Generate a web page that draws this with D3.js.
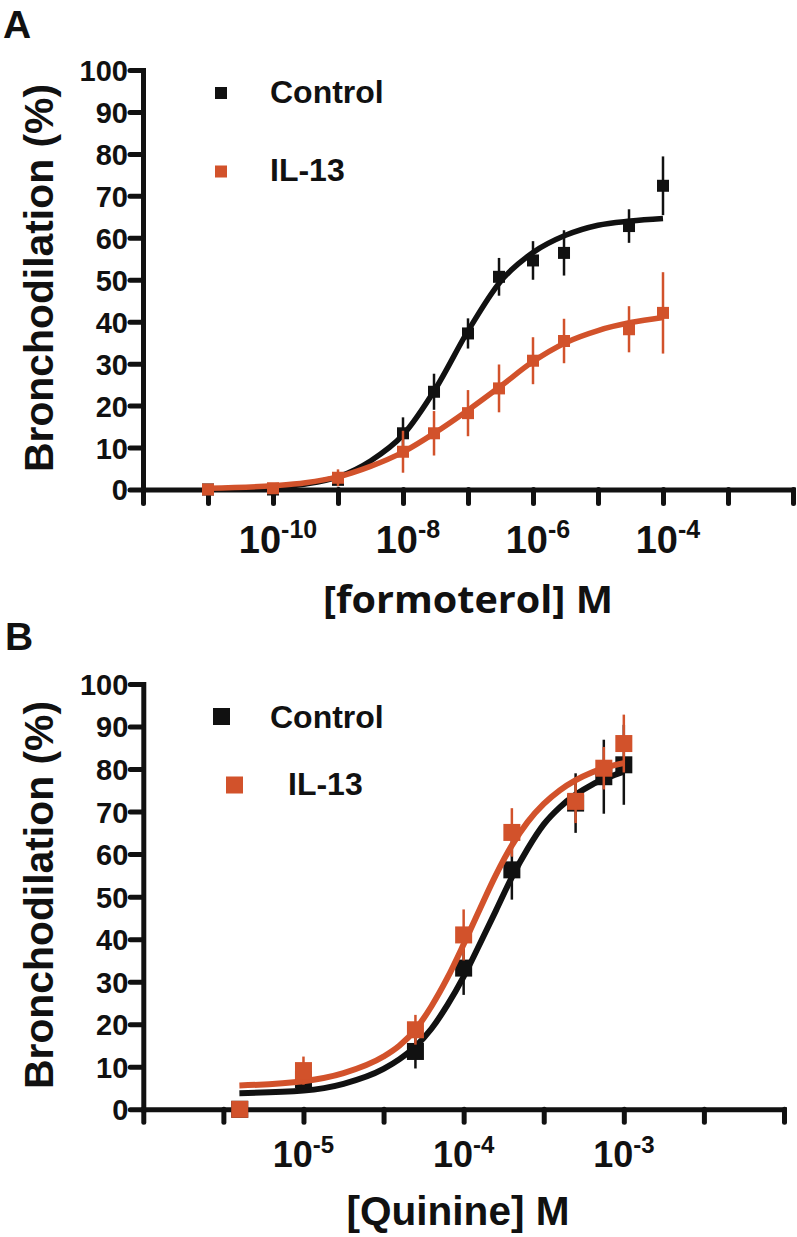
<!DOCTYPE html>
<html><head><meta charset="utf-8">
<script src="https://cdn.jsdelivr.net/npm/d3@7"></script>
<style>
body{margin:0;background:#fff}
svg text{font-family:"Liberation Sans",Arial,sans-serif;font-weight:bold;fill:#111}
</style>
</head><body>
<svg id="chart" width="797" height="1237"></svg>
<script>
// ---------- Panel A : formoterol ----------
const concA      = [1e-11, 1e-10, 1e-9, 1e-8, 3e-8, 1e-7, 3e-7, 1e-6, 3e-6, 3e-5, 1e-4];
const controlA   = [0, 0, 2.3, 13.4, 23.3, 37.2, 50.7, 54.6, 56.4, 62.8, 72.4];
const controlAErr= [0, 0, 1.5, 3.8, 4.3, 3.6, 4.5, 4.6, 5.4, 4.0, 7.0];
const il13A      = [0, 0.3, 2.8, 9.0, 13.4, 18.2, 24.1, 30.7, 35.4, 38.2, 42.1];
const il13AErr   = [0, 0, 2.0, 5.0, 5.3, 5.5, 5.7, 5.6, 5.3, 5.5, 9.7];
// fitted curves (log10 M, %)
const fitLogA     = [-11, -10, -9.5, -9, -8.5, -8, -7.5, -7, -6.5, -6, -5.5, -5, -4.5, -4];
const fitControlA = [0.1, 0.5, 1.3, 3.0, 6.8, 13.0, 24.0, 37.8, 49.6, 56.5, 60.6, 63.0, 64.0, 64.6];
const fitIl13A    = [0.3, 0.9, 1.6, 3.0, 5.5, 8.9, 13.6, 18.9, 24.6, 30.5, 35.0, 37.9, 39.8, 41.0];
const tickExpA    = [-12, -11, -10, -9, -8, -7, -6, -5, -4, -3, -2];
const labelExpA   = ["-10", "-8", "-6", "-4"];
const labelValA   = [1e-10, 1e-8, 1e-6, 1e-4];

// ---------- Panel B : quinine ----------
const concB      = [4e-6, 1e-5, 5e-5, 1e-4, 2e-4, 5e-4, 7.5e-4, 1e-3];
const controlB   = [0, 7.0, 13.6, 33.2, 56.3, 72.0, 78.2, 81.0];
const controlBErr= [0, 2.0, 4.0, 6.3, 7.0, 7.0, 8.7, 9.4];
const il13B      = [0, 9.1, 18.7, 41.0, 65.1, 72.4, 80.2, 86.0];
const il13BErr   = [0, 3.3, 3.5, 6.0, 5.7, 5.1, 5.0, 6.8];
const fitLogB     = [-5.4, -5, -4.75, -4.5, -4.4, -4.3, -4.2, -4.1, -4, -3.9, -3.8, -3.7, -3.6, -3.5, -3.4, -3.3, -3.2, -3.1, -3];
const fitControlB = [3.8, 4.4, 6.0, 9.5, 11.8, 14.8, 19.0, 24.6, 31.2, 38.8, 46.6, 54.5, 61.3, 67.0, 71.0, 74.0, 76.3, 78.0, 79.4];
const fitIl13B    = [5.6, 6.6, 8.5, 12.4, 15.0, 18.8, 24.3, 31.0, 38.8, 47.0, 55.0, 62.0, 67.6, 71.8, 75.0, 77.4, 79.2, 80.5, 81.4];
const tickExpB    = [-6, -5.5, -5, -4.5, -4, -3.5, -3, -2.5, -2];
const labelExpB   = ["-5", "-4", "-3"];
const labelValB   = [1e-5, 1e-4, 1e-3];

const yTicks = [0, 10, 20, 30, 40, 50, 60, 70, 80, 90, 100];
const seriesNames = ["Control", "IL-13"];
const colors = ["#111111", "#d2522b"];

const svg = d3.select("#chart");
svg.append("rect").attr("width", 797).attr("height", 1237).attr("fill", "#fff");

function panel(o) {
  const g = svg.append("g");
  const x = d3.scaleLog().domain(o.xDomain).range(o.xRange);
  const y = d3.scaleLinear().domain([0, 100]).range(o.yRange);

  g.append("text").attr("x", o.letterPos[0]).attr("y", o.letterPos[1])
    .style("font-size", "39px").text(o.letter);

  const xAxis = d3.axisBottom(x).tickValues(o.tickExp.map(e => Math.pow(10, e)))
    .tickSize(o.xTickLen).tickSizeOuter(0).tickFormat("");
  const gx = g.append("g").attr("transform", `translate(0,${o.yRange[0]})`).call(xAxis);
  const yAxis = d3.axisLeft(y).tickValues(yTicks).tickSize(13).tickSizeOuter(0).tickPadding(2);
  const gy = g.append("g").attr("transform", `translate(${o.xRange[0]},0)`).call(yAxis);
  [gx, gy].forEach(a => {
    a.select(".domain").attr("stroke", "#111").attr("stroke-width", 5).attr("stroke-linecap", "square");
    a.selectAll(".tick line").attr("stroke", "#111").attr("stroke-width", 5).attr("stroke-linecap", "round");
  });
  gy.selectAll(".tick text").attr("fill", "#111")
    .style("font-family", '"Liberation Sans",Arial,sans-serif').style("font-weight", "bold")
    .style("font-size", "29px").attr("dy", "0.36em");

  o.labelVal.forEach((v, i) => {
    const t = g.append("text").attr("x", x(v) + o.labelShift).attr("y", o.labelBase)
      .attr("text-anchor", "middle").style("font-size", o.labelSize + "px");
    t.append("tspan").text("10");
    t.append("tspan").attr("dy", -o.supRaise).style("font-size", o.supSize + "px").text(o.labelExp[i]);
  });

  g.append("text").attr("transform", `translate(${o.yTitle[0]},${o.yTitle[1]}) rotate(-90)`)
    .attr("text-anchor", "middle").style("font-size", "40px")
    .attr("textLength", 388).attr("lengthAdjust", "spacingAndGlyphs")
    .text("Bronchodilation (%)");
  const xt = g.append("text").attr("x", o.xTitle[0]).attr("y", o.xTitle[1])
    .attr("text-anchor", "middle").style("font-size", o.xTitleSize + "px")
    .attr("textLength", o.xTitleLen).attr("lengthAdjust", "spacingAndGlyphs")
    .text(o.xTitleText);
  if (o.xTitleFont) xt.style("font-family", o.xTitleFont);

  const line = d3.line().x(d => x(Math.pow(10, d[0]))).y(d => y(d[1])).curve(d3.curveMonotoneX);
  o.series.forEach((s, k) => {
    const c = colors[k];
    g.append("path").datum(o.fitLog.map((lx, i) => [lx, s.fit[i]]))
      .attr("d", line).attr("fill", "none").attr("stroke", c).attr("stroke-width", o.lineW)
      .attr("stroke-linejoin", "round");
    const pts = o.conc.map((cx, i) => ({x: cx, y: s.vals[i], e: s.err[i]}));
    g.selectAll(null).data(pts.filter(p => p.e > 0)).enter().append("line")
      .attr("x1", p => x(p.x)).attr("x2", p => x(p.x))
      .attr("y1", p => y(p.y + p.e)).attr("y2", p => y(Math.max(0, p.y - p.e)))
      .attr("stroke", c).attr("stroke-width", 2.5);
    g.selectAll(null).data(pts).enter().append("rect")
      .attr("x", p => x(p.x) - o.mSize / 2).attr("y", p => y(p.y) - o.mSize / 2)
      .attr("width", o.mSize).attr("height", o.mSize).attr("fill", c);
  });

  seriesNames.forEach((n, k) => {
    const L = o.legend[k];
    g.append("rect").attr("x", L.sx - o.legSize / 2).attr("y", L.sy - o.legSize / 2)
      .attr("width", o.legSize).attr("height", o.legSize).attr("fill", colors[k]);
    g.append("text").attr("x", L.tx).attr("y", L.ty).style("font-size", "32px").text(n);
  });
}

panel({
  letter: "A", letterPos: [3, 38],
  xDomain: [1e-12, 1e-2], xRange: [143, 793], yRange: [489.5, 70],
  tickExp: tickExpA, xTickLen: 14,
  labelVal: labelValA, labelExp: labelExpA, labelShift: 5, labelBase: 553, labelSize: 38, supSize: 25, supRaise: 15,
  yTitle: [53, 278],
  xTitle: [468, 613], xTitleText: "[formoterol] M", xTitleSize: 37, xTitleLen: 290, xTitleFont: '"Open Sans",sans-serif',
  conc: concA, fitLog: fitLogA, mSize: 12, lineW: 5.5,
  series: [{vals: controlA, err: controlAErr, fit: fitControlA}, {vals: il13A, err: il13AErr, fit: fitIl13A}],
  legSize: 12,
  legend: [{sx: 221, sy: 93, tx: 270, ty: 103}, {sx: 221, sy: 171.5, tx: 270, ty: 181}]
});

panel({
  letter: "B", letterPos: [5, 650],
  xDomain: [1e-6, 1e-2], xRange: [143.3, 784], yRange: [1109.3, 684],
  tickExp: tickExpB, xTickLen: 13,
  labelVal: labelValB, labelExp: labelExpB, labelShift: 0, labelBase: 1167, labelSize: 36, supSize: 24, supRaise: 14,
  yTitle: [53, 895],
  xTitle: [458, 1225], xTitleText: "[Quinine] M", xTitleSize: 40, xTitleLen: 223, xTitleFont: null,
  conc: concB, fitLog: fitLogB, mSize: 17, lineW: 6,
  series: [{vals: controlB, err: controlBErr, fit: fitControlB}, {vals: il13B, err: il13BErr, fit: fitIl13B}],
  legSize: 17,
  legend: [{sx: 221.5, sy: 716.5, tx: 270, ty: 728}, {sx: 234.5, sy: 785, tx: 288, ty: 795}]
});
</script>
</body></html>
